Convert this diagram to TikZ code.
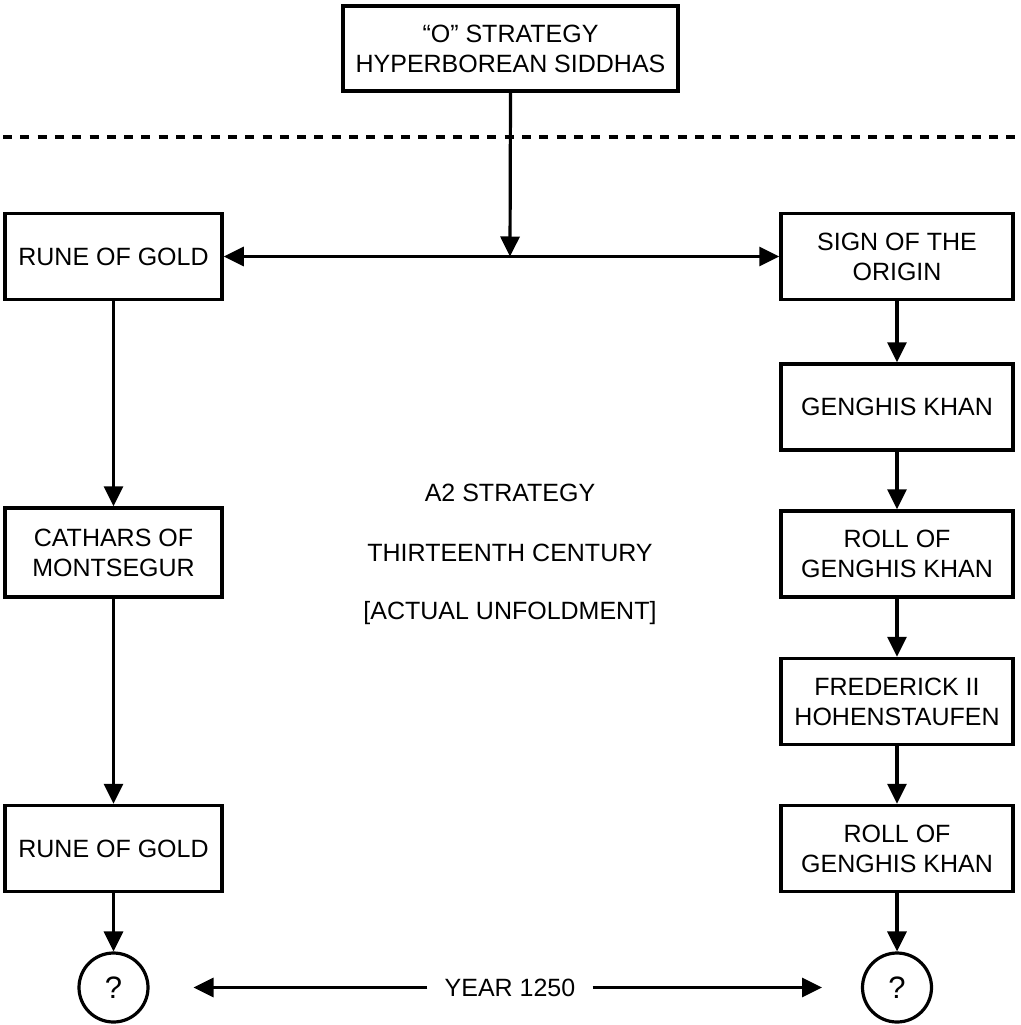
\documentclass[tikz,border=0pt]{standalone}
\usepackage{fontspec}
\setmainfont{Liberation Sans}
\usetikzlibrary{arrows.meta}
\begin{document}
\begin{tikzpicture}[x=1pt,y=-1pt,
  every node/.style={font=\fontsize{25}{30}\selectfont, align=center},
  box/.style={draw, line width=3.5pt, inner sep=0pt, minimum height=86pt},
  lbox/.style={box, minimum width=217pt},
  rbox/.style={box, minimum width=232pt},
  qcirc/.style={draw, circle, line width=3.2pt, minimum size=69pt, inner sep=0pt, font=\fontsize{31}{31}\selectfont},
  tip/.tip={Triangle[length=20pt,width=19pt]},
  conn/.style={line width=3.2pt, -tip},
  dconn/.style={line width=3.2pt, tip-tip}
]
\useasboundingbox (0,0) rectangle (1020,1025);
\fill[white] (0,0) rectangle (1020,1025);

\node[box, minimum width=335pt, minimum height=85pt] (top) at (510.5,48.5) {“O” STRATEGY\\HYPERBOREAN SIDDHAS};

\draw[line width=4pt, dash pattern=on 9pt off 8.3pt] (3,137) -- (1020,137);

\node[lbox] (rg1) at (113.5,256.5) {RUNE OF GOLD};
\node[rbox] (sign) at (897,256.5) {SIGN OF THE\\ORIGIN};
\coordinate (mid) at (510,256.5);

\node[rbox] (gk) at (897,407) {GENGHIS KHAN};
\node[rbox] (roll1) at (897,554) {ROLL OF\\GENGHIS KHAN};
\node[rbox] (fred) at (897,701.5) {FREDERICK II\\HOHENSTAUFEN};
\node[rbox] (roll2) at (897,848.5) {ROLL OF\\GENGHIS KHAN};

\node[lbox, minimum height=89pt] (cath) at (113.5,552.5) {CATHARS OF\\MONTSEGUR};
\node[lbox] (rg2) at (113.5,848.5) {RUNE OF GOLD};

\node (a2) at (510,493) {A2 STRATEGY};
\node (thc) at (510,553) {THIRTEENTH CENTURY};
\node (act) at (510,613) {[ACTUAL UNFOLDMENT]};

\node[qcirc] (q1) at (113.5,987.5) {?};
\node[qcirc] (q2) at (897,987.5) {?};
\node[inner sep=17pt] (year) at (510,987.5) {YEAR 1250};

\draw[conn] (top.south) -- (mid);
\draw[dconn] (rg1.east) -- (sign.west);
\draw[conn] (sign.south) -- (gk.north);
\draw[conn] (gk.south) -- (roll1.north);
\draw[conn] (roll1.south) -- (fred.north);
\draw[conn] (fred.south) -- (roll2.north);
\draw[conn] (roll2.south) -- (q2.north);
\draw[conn] (rg1.south) -- (cath.north);
\draw[conn] (cath.south) -- (rg2.north);
\draw[conn] (rg2.south) -- (q1.north);
\draw[conn, shorten >=80pt] (year.west) -- (q1.center);
\draw[conn, shorten >=75pt] (year.east) -- (q2.center);
\end{tikzpicture}
\end{document}
